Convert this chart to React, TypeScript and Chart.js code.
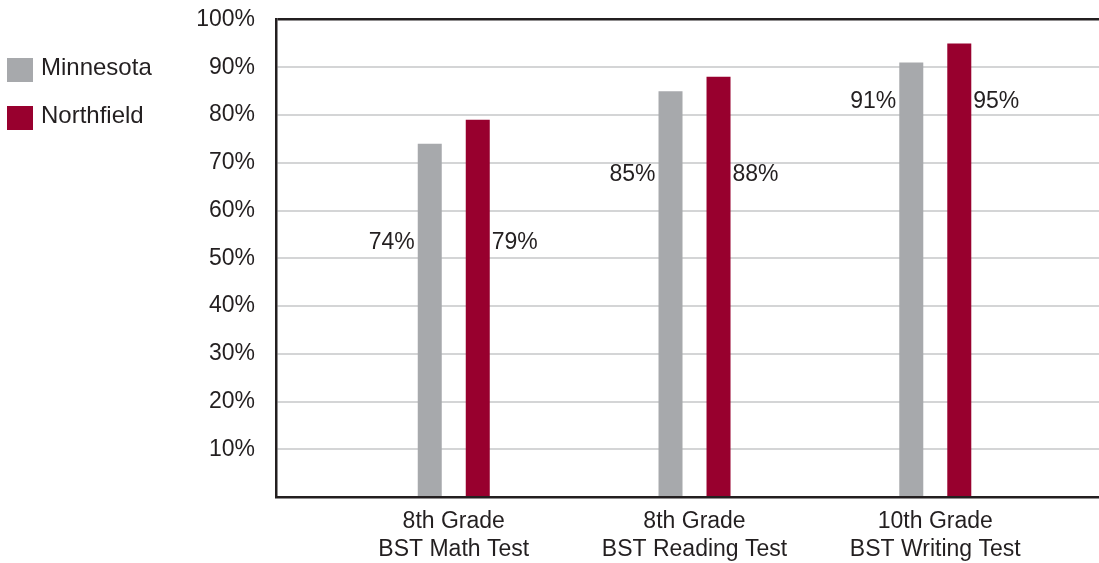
import React, { useEffect, useRef } from 'react';
import { Chart, registerables } from 'chart.js';

Chart.register(...registerables);

// ---- data ----
const CATEGORIES: string[][] = [
  ['8th Grade', 'BST Math Test'],
  ['8th Grade', 'BST Reading Test'],
  ['10th Grade', 'BST Writing Test'],
];
const SERIES_NAMES = ['Minnesota', 'Northfield'];
const MINNESOTA = [74, 85, 91];
const NORTHFIELD = [79, 88, 95];
const Y_TICK_STEP = 10;
const Y_MAX = 100;

// ---- layout / style ----
const FONT = '"Liberation Sans", Arial, Helvetica, sans-serif';
const TEXT = '#231f20';
const DARK = '#231f20';
const GRID = '#d4d5d6';
const COLORS = ['#a7a9ac', '#98002e'];
const LABEL_LEVELS = [53.2, 67.5, 82.7]; // value-axis height where each group's labels sit
const LEGEND_ROWS = [70, 118];

const overlay = {
  id: 'overlay',
  afterDatasetsDraw(chart: any) {
    const ctx = chart.ctx;
    const yScale = chart.scales.y;
    ctx.save();
    ctx.font = `23px ${FONT}`;
    ctx.textBaseline = 'middle';
    chart.data.datasets.forEach((ds: any, di: number) => {
      const meta = chart.getDatasetMeta(di);
      meta.data.forEach((bar: any, i: number) => {
        const { x, width } = bar.getProps(['x', 'width'], true);
        const yy = yScale.getPixelForValue(LABEL_LEVELS[i]);
        const text = `${ds.data[i].y}%`;
        ctx.fillStyle = TEXT;
        if (di === 0) {
          ctx.textAlign = 'right';
          ctx.fillText(text, x - width / 2 - 3, yy);
        } else {
          ctx.textAlign = 'left';
          ctx.fillText(text, x + width / 2 + 2, yy);
        }
      });
    });
    // legend
    ctx.font = `24px ${FONT}`;
    chart.data.datasets.forEach((ds: any, di: number) => {
      const cy = LEGEND_ROWS[di];
      ctx.fillStyle = ds.backgroundColor;
      ctx.fillRect(7, cy - 12, 26, 24);
      ctx.fillStyle = TEXT;
      ctx.textAlign = 'left';
      ctx.fillText(ds.label, 41, cy - 2);
    });
    ctx.restore();
  },
};

export default function App() {
  const ref = useRef<HTMLCanvasElement | null>(null);
  useEffect(() => {
    if (!ref.current) return;
    const seriesValues = [MINNESOTA, NORTHFIELD];
    const chart = new Chart(ref.current, {
      type: 'bar',
      data: {
        datasets: SERIES_NAMES.map((name, si) => ({
          label: name,
          data: seriesValues[si].map((v, i) => ({ x: i + 1, y: v })),
          backgroundColor: COLORS[si],
          borderWidth: 0,
          categoryPercentage: 0.3988,
          barPercentage: 0.5,
        })),
      },
      options: {
        animation: false,
        responsive: true,
        maintainAspectRatio: false,
        layout: { padding: { top: 19.5, left: 0, right: 0, bottom: 0 } },
        plugins: { legend: { display: false }, tooltip: { enabled: false } },
        scales: {
          x: {
            type: 'linear',
            offset: false,
            min: 0.2617,
            max: 3.68,
            afterBuildTicks: (axis: any) => {
              axis.ticks = CATEGORIES.map((_, i) => ({ value: i + 1 }));
            },
            afterFit: (scale: any) => {
              scale.height = 66;
            },
            grid: { display: false, drawTicks: false, offset: false },
            border: { display: true, color: DARK, width: 2.5 },
            ticks: {
              autoSkip: false,
              maxRotation: 0,
              padding: 10.5,
              color: TEXT,
              font: { family: FONT, size: 23, lineHeight: 1.23 },
              callback: (v: any) => CATEGORIES[Math.round(v) - 1] ?? '',
            },
          },
          y: {
            min: 0,
            max: Y_MAX,
            afterFit: (scale: any) => {
              scale.width = 276;
            },
            grid: {
              drawTicks: true,
              tickLength: 21,
              tickColor: 'rgba(0,0,0,0)',
              color: (c: any) =>
                c.tick && c.tick.value === Y_MAX ? DARK : c.tick && c.tick.value === 0 ? 'rgba(0,0,0,0)' : GRID,
              lineWidth: (c: any) => (c.tick && c.tick.value === Y_MAX ? 2.5 : 2),
            },
            border: { display: true, color: DARK, width: 2.5 },
            ticks: {
              stepSize: Y_TICK_STEP,
              padding: 0,
              color: TEXT,
              font: { family: FONT, size: 23 },
              callback: (v: any) => (v === 0 ? '' : `${v}%`),
            },
          },
        },
      },
      plugins: [overlay],
    } as any);
    return () => chart.destroy();
  }, []);
  return (
    <div style={{ position: 'fixed', left: 0, top: 0, width: 1099, height: 563, background: '#fff' }}>
      <canvas ref={ref} />
    </div>
  );
}
